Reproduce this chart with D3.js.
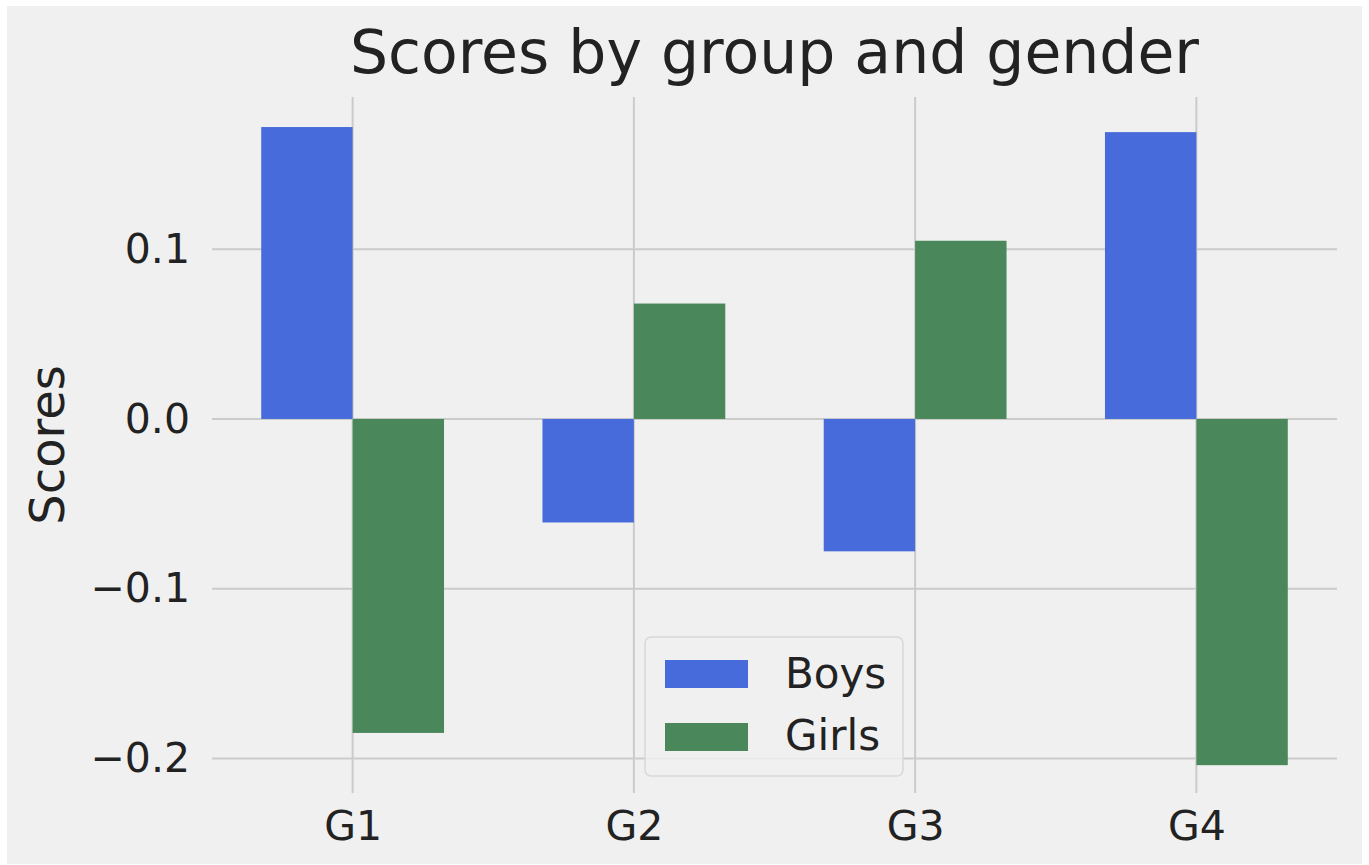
<!DOCTYPE html>
<html>
<head>
<meta charset="utf-8">
<script src="https://cdn.jsdelivr.net/npm/d3@7"></script>
<style>
  body { margin: 0; background: #ffffff; }
  text { font-family: "DejaVu Sans", sans-serif; fill: #222; }
</style>
</head>
<body>
<div id="chart"></div>
<script>
// data
const groups = ["G1", "G2", "G3", "G4"];
const boys = [0.172, -0.061, -0.078, 0.169];
const girls = [-0.185, 0.068, 0.105, -0.204];
const yTicks = [-0.2, -0.1, 0.0, 0.1];
const seriesNames = ["Boys", "Girls"];
const seriesColors = ["#476bdb", "#4a875a"];

const width = 1369;
const height = 865;
const plot = { left: 212, right: 1337, top: 97, bottom: 793 };
const barWidth = 0.325;

const svg = d3.select("#chart").append("svg")
  .attr("width", width)
  .attr("height", height);

// figure background
svg.append("rect")
  .attr("x", 7).attr("y", 6)
  .attr("width", 1355).attr("height", 858)
  .attr("fill", "#f0f0f0");

// scales
const x = d3.scaleLinear().domain([-0.5, 3.5]).range([plot.left, plot.right]);
const y = d3.scaleLinear().domain([-0.2204, 0.1897]).range([plot.bottom, plot.top]);

// grid
svg.append("g").selectAll("line.h")
  .data(yTicks)
  .join("line")
  .attr("x1", plot.left).attr("x2", plot.right)
  .attr("y1", d => y(d)).attr("y2", d => y(d))
  .attr("stroke", "#cbcbcb").attr("stroke-width", 2);

svg.append("g").selectAll("line.v")
  .data(groups)
  .join("line")
  .attr("x1", (d, i) => x(i)).attr("x2", (d, i) => x(i))
  .attr("y1", plot.top).attr("y2", plot.bottom)
  .attr("stroke", "#cbcbcb").attr("stroke-width", 2);

// bars
const barData = [];
groups.forEach((g, i) => {
  barData.push({ i, v: boys[i], s: 0 });
  barData.push({ i, v: girls[i], s: 1 });
});

svg.append("g").selectAll("rect")
  .data(barData)
  .join("rect")
  .attr("x", d => d.s === 0 ? x(d.i - barWidth) : x(d.i))
  .attr("width", x(barWidth) - x(0))
  .attr("y", d => y(Math.max(0, d.v)))
  .attr("height", d => Math.abs(y(d.v) - y(0)))
  .attr("fill", d => seriesColors[d.s]);

// y axis
const yAxis = d3.axisLeft(y)
  .tickValues(yTicks)
  .tickSize(0)
  .tickPadding(22)
  .tickFormat(d3.format(".1f"));

svg.append("g")
  .attr("transform", `translate(${plot.left},0)`)
  .call(yAxis)
  .call(g => g.select(".domain").remove())
  .selectAll("text")
  .attr("font-size", 41)
  .attr("fill", "#222")
  .style("font-family", "DejaVu Sans");

// x axis
const xAxis = d3.axisBottom(x)
  .tickValues(d3.range(groups.length))
  .tickSize(0)
  .tickPadding(18)
  .tickFormat(i => groups[i]);

svg.append("g")
  .attr("transform", `translate(0,${plot.bottom})`)
  .call(xAxis)
  .call(g => g.select(".domain").remove())
  .selectAll("text")
  .attr("font-size", 41)
  .attr("fill", "#222")
  .style("font-family", "DejaVu Sans");

// y label
svg.append("text")
  .text("Scores")
  .attr("transform", `translate(64,${(plot.top + plot.bottom) / 2}) rotate(-90)`)
  .attr("text-anchor", "middle")
  .attr("font-size", 48);

// title
svg.append("text")
  .text("Scores by group and gender")
  .attr("x", (plot.left + plot.right) / 2)
  .attr("y", 73)
  .attr("text-anchor", "middle")
  .attr("font-size", 60);

// legend
const legend = svg.append("g");
legend.append("rect")
  .attr("x", 645).attr("y", 637)
  .attr("width", 258).attr("height", 139)
  .attr("rx", 6)
  .attr("fill", "#f0f0f0").attr("fill-opacity", 0.8)
  .attr("stroke", "#d8d8d8").attr("stroke-width", 1.5);

legend.selectAll("rect.key")
  .data(seriesNames)
  .join("rect")
  .attr("class", "key")
  .attr("x", 665)
  .attr("y", (d, i) => 660 + i * 63)
  .attr("width", 83).attr("height", 28)
  .attr("fill", (d, i) => seriesColors[i]);

legend.selectAll("text")
  .data(seriesNames)
  .join("text")
  .attr("x", 785)
  .attr("y", (d, i) => 688 + i * 62)
  .attr("font-size", 42)
  .text(d => d);
</script>
</body>
</html>
